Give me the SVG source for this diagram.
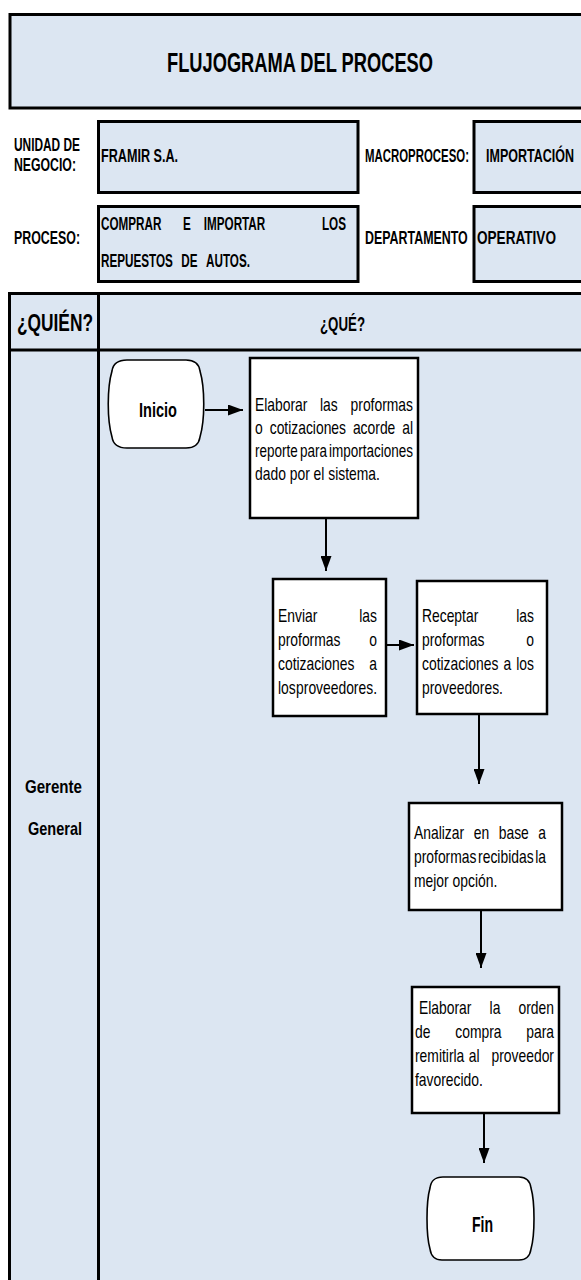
<svg xmlns="http://www.w3.org/2000/svg" width="581" height="1280" viewBox="0 0 581 1280">
  <style>
    .band { fill: #DCE6F2; stroke: #000; stroke-width: 3; }
    .rule { fill: none; stroke: #000; stroke-width: 3; }
    .proc { fill: #fff; stroke: #000; stroke-width: 2.5; }
    .term { fill: #fff; stroke: #000; stroke-width: 1.6; }
    .link { fill: none; stroke: #000; stroke-width: 2; marker-end: url(#head); }
    .h { font-family: "Liberation Sans", Arial, sans-serif; font-weight: bold; fill: #000; }
    .l { font-size: 18px; }
    .t { font-family: "Liberation Sans", Arial, sans-serif; font-size: 18.5px; fill: #000; }
    .e { text-anchor: end; }
    .m { text-anchor: middle; }
  </style>
  <defs>
    <marker id="head" markerUnits="userSpaceOnUse" markerWidth="15" markerHeight="11" refX="15" refY="5.5" orient="auto">
      <path d="M0,0 L15,5.5 L0,11 Z" fill="#000"/>
    </marker>
  </defs>

  <rect width="581" height="1280" fill="#fff"/>

  <!-- title band -->
  <g id="title">
    <rect class="band" x="10" y="14.5" width="620" height="93.5"/>
    <text class="h" x="167" y="72" font-size="27" textLength="266" lengthAdjust="spacingAndGlyphs">FLUJOGRAMA DEL PROCESO</text>
  </g>

  <!-- process data -->
  <g id="datos">
    <text class="h l" x="14" y="151" textLength="66" lengthAdjust="spacingAndGlyphs">UNIDAD DE</text>
    <text class="h l" x="14" y="171" textLength="62" lengthAdjust="spacingAndGlyphs">NEGOCIO:</text>
    <rect class="band" x="98.5" y="121.5" width="259.5" height="71"/>
    <text class="h l" x="101" y="162" textLength="77" lengthAdjust="spacingAndGlyphs">FRAMIR S.A.</text>
    <text class="h l" x="365" y="162" textLength="104" lengthAdjust="spacingAndGlyphs">MACROPROCESO:</text>
    <rect class="band" x="474" y="121.5" width="200" height="71"/>
    <text class="h l" transform="matrix(.695 0 0 1 486 162)">IMPORTACIÓN</text>

    <text class="h l" x="14" y="244" textLength="66" lengthAdjust="spacingAndGlyphs">PROCESO:</text>
    <rect class="band" x="98.5" y="206.5" width="259.5" height="75"/>
    <text class="h l" transform="matrix(.65 0 0 1 101 230)">COMPRAR</text>
    <text class="h l m" transform="matrix(.65 0 0 1 187 230)">E</text>
    <text class="h l m" transform="matrix(.65 0 0 1 234.5 230)">IMPORTAR</text>
    <text class="h l e" transform="matrix(.65 0 0 1 346 230)">LOS</text>
    <text class="h l" transform="matrix(.65 0 0 1 101 267)">REPUESTOS</text>
    <text class="h l m" transform="matrix(.65 0 0 1 189.3 267)">DE</text>
    <text class="h l e" transform="matrix(.65 0 0 1 250 267)">AUTOS.</text>
    <text class="h l" transform="matrix(.69 0 0 1 365 244)">DEPARTAMENTO</text>
    <rect class="band" x="474" y="206.5" width="200" height="75"/>
    <text class="h l" transform="matrix(.755 0 0 1 477 244)">OPERATIVO</text>
  </g>

  <!-- swimlane table -->
  <g id="tabla">
    <rect class="band" x="9.5" y="293.5" width="620" height="1100"/>
    <line class="rule" x1="9.5" y1="350" x2="630" y2="350"/>
    <line class="rule" x1="98.5" y1="293.5" x2="98.5" y2="1290"/>
    <text class="h" x="17" y="331" font-size="24" textLength="76" lengthAdjust="spacingAndGlyphs">¿QUIÉN?</text>
    <text class="h" x="320" y="331" font-size="20" textLength="45" lengthAdjust="spacingAndGlyphs">¿QUÉ?</text>
    <text class="h" x="25" y="793" font-size="19" textLength="57" lengthAdjust="spacingAndGlyphs">Gerente</text>
    <text class="h" x="28" y="835" font-size="19" textLength="54" lengthAdjust="spacingAndGlyphs">General</text>
  </g>

  <!-- connectors -->
  <g id="connectors">
    <path class="link" d="M 205,410 H 243"/>
    <path class="link" d="M 326,518 V 571"/>
    <path class="link" d="M 386,645 H 414"/>
    <path class="link" d="M 479,714 V 784"/>
    <path class="link" d="M 481,910 V 968"/>
    <path class="link" d="M 484,1113 V 1163"/>
  </g>

  <g id="n-inicio">
    <path class="term" d="M 127,360 H 186 C 195,360 199,364 200,371 C 205,388 205,420 200,437 C 199,444 195,448 186,448 H 127 C 118,448 113,444 112,437 C 107,420 107,388 112,371 C 113,364 118,360 127,360 Z"/>
    <text class="h" x="139" y="417" font-size="21" textLength="38" lengthAdjust="spacingAndGlyphs">Inicio</text>
  </g>

  <g id="n-elaborar-proformas">
    <rect class="proc" x="250" y="358" width="168" height="160"/>
    <text class="t" transform="matrix(.75 0 0 1 255 411)">Elaborar</text>
    <text class="t" transform="matrix(.75 0 0 1 320 411)">las</text>
    <text class="t e" transform="matrix(.75 0 0 1 413 411)">proformas</text>
    <text class="t" transform="matrix(.75 0 0 1 255 434)">o</text>
    <text class="t" transform="matrix(.75 0 0 1 269.7 434)">cotizaciones</text>
    <text class="t" transform="matrix(.75 0 0 1 352.9 434)">acorde</text>
    <text class="t e" transform="matrix(.75 0 0 1 413 434)">al</text>
    <text class="t" transform="matrix(.73 0 0 1 255 457)">reporte</text>
    <text class="t" transform="matrix(.73 0 0 1 299.9 457)">para</text>
    <text class="t e" transform="matrix(.73 0 0 1 413 457)">importaciones</text>
    <text class="t" transform="matrix(.75 0 0 1 255 480)">dado por el sistema.</text>
  </g>

  <g id="n-enviar">
    <rect class="proc" x="273" y="579" width="113" height="137"/>
    <text class="t" transform="matrix(.75 0 0 1 278 622)">Enviar</text>
    <text class="t e" transform="matrix(.75 0 0 1 377 622)">las</text>
    <text class="t" transform="matrix(.75 0 0 1 278 646)">proformas</text>
    <text class="t e" transform="matrix(.75 0 0 1 377 646)">o</text>
    <text class="t" transform="matrix(.75 0 0 1 278 670)">cotizaciones</text>
    <text class="t e" transform="matrix(.75 0 0 1 377 670)">a</text>
    <text class="t" transform="matrix(.75 0 0 1 278 694)">los</text>
    <text class="t e" transform="matrix(.75 0 0 1 377 694)">proveedores.</text>
  </g>

  <g id="n-receptar">
    <rect class="proc" x="417" y="581" width="130" height="133"/>
    <text class="t" transform="matrix(.75 0 0 1 422 622)">Receptar</text>
    <text class="t e" transform="matrix(.75 0 0 1 534 622)">las</text>
    <text class="t" transform="matrix(.75 0 0 1 422 646)">proformas</text>
    <text class="t e" transform="matrix(.75 0 0 1 534 646)">o</text>
    <text class="t" transform="matrix(.75 0 0 1 422 670)">cotizaciones</text>
    <text class="t" transform="matrix(.75 0 0 1 503.4 670)">a</text>
    <text class="t e" transform="matrix(.75 0 0 1 534 670)">los</text>
    <text class="t" transform="matrix(.75 0 0 1 422 694)">proveedores.</text>
  </g>

  <g id="n-analizar">
    <rect class="proc" x="409" y="803" width="153" height="107"/>
    <text class="t" transform="matrix(.75 0 0 1 414 839)">Analizar</text>
    <text class="t" transform="matrix(.75 0 0 1 473.7 839)">en</text>
    <text class="t" transform="matrix(.75 0 0 1 498.7 839)">base</text>
    <text class="t e" transform="matrix(.75 0 0 1 546 839)">a</text>
    <text class="t" transform="matrix(.75 0 0 1 414 863)">proformas</text>
    <text class="t" transform="matrix(.75 0 0 1 478.1 863)">recibidas</text>
    <text class="t e" transform="matrix(.75 0 0 1 546 863)">la</text>
    <text class="t" transform="matrix(.75 0 0 1 414 887)">mejor opción.</text>
  </g>

  <g id="n-orden-compra">
    <rect class="proc" x="412" y="987" width="147" height="126"/>
    <text class="t" transform="matrix(.75 0 0 1 419 1014)">Elaborar</text>
    <text class="t" transform="matrix(.75 0 0 1 489.6 1014)">la</text>
    <text class="t e" transform="matrix(.75 0 0 1 554 1014)">orden</text>
    <text class="t" transform="matrix(.75 0 0 1 415 1038)">de</text>
    <text class="t" transform="matrix(.75 0 0 1 455.3 1038)">compra</text>
    <text class="t e" transform="matrix(.75 0 0 1 554 1038)">para</text>
    <text class="t" transform="matrix(.75 0 0 1 415 1062)">remitirla</text>
    <text class="t" transform="matrix(.75 0 0 1 468.7 1062)">al</text>
    <text class="t e" transform="matrix(.75 0 0 1 554 1062)">proveedor</text>
    <text class="t" transform="matrix(.75 0 0 1 415 1086)">favorecido.</text>
  </g>

  <g id="n-fin">
    <path class="term" d="M 443,1177 H 519 C 527,1177 530,1181 531,1188 C 535,1202 535,1235 531,1249 C 530,1256 527,1260 519,1260 H 442 C 434,1260 431,1256 430,1249 C 426,1235 426,1202 430,1188 C 431,1181 434,1177 443,1177 Z"/>
    <text class="h" x="472" y="1232" font-size="22" textLength="21" lengthAdjust="spacingAndGlyphs">Fin</text>
  </g>
</svg>
